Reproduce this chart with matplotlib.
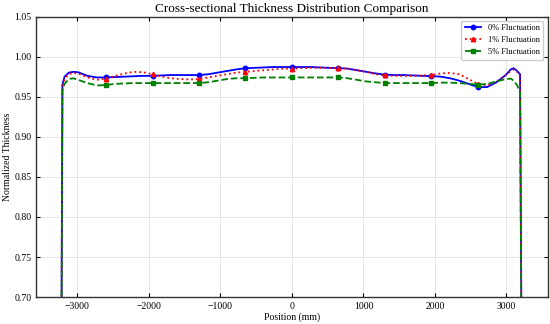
import numpy as np
import matplotlib
matplotlib.use("Agg")
import matplotlib.pyplot as plt

plt.rcParams['font.family'] = ['Liberation Serif', 'DejaVu Serif']

# sample positions across the section (mm)
position = [-3250, -3210, -3180, -3120, -3060, -2990, -2860, -2730, -2600, -2470,
            -2340, -2210, -2080, -1950, -1820, -1690, -1560, -1430, -1300, -1170,
            -1040, -910, -780, -650, -520, -390, -260, -130, 0, 130,
            260, 390, 520, 650, 780, 910, 1040, 1170, 1300, 1430,
            1560, 1690, 1820, 1950, 2080, 2210, 2340, 2470, 2600, 2730,
            2860, 2990, 3060, 3100, 3150, 3190, 3250]

thick_0 = [0.0, 0.965, 0.975, 0.980, 0.981, 0.9805, 0.976, 0.974, 0.974, 0.9745,
           0.975, 0.9755, 0.976, 0.976, 0.9765, 0.977, 0.977, 0.977, 0.977, 0.978,
           0.980, 0.982, 0.984, 0.9855, 0.986, 0.9865, 0.987, 0.987, 0.987, 0.987,
           0.987, 0.9865, 0.986, 0.9857, 0.985, 0.983, 0.981, 0.979, 0.9775, 0.977,
           0.977, 0.9765, 0.976, 0.9757, 0.975, 0.973, 0.970, 0.966, 0.962, 0.962,
           0.968, 0.977, 0.984, 0.9855, 0.982, 0.978, 0.0]

thick_1 = [0.0, 0.962, 0.972, 0.978, 0.9797, 0.979, 0.974, 0.971, 0.9725, 0.976,
           0.979, 0.981, 0.9805, 0.978, 0.975, 0.973, 0.972, 0.9715, 0.972, 0.974,
           0.976, 0.978, 0.980, 0.981, 0.982, 0.983, 0.984, 0.985, 0.985, 0.9855,
           0.986, 0.986, 0.986, 0.9855, 0.985, 0.983, 0.981, 0.978, 0.9765, 0.976,
           0.976, 0.976, 0.9765, 0.977, 0.979, 0.9797, 0.978, 0.972, 0.966, 0.964,
           0.969, 0.977, 0.982, 0.984, 0.981, 0.975, 0.0]

thick_5 = [0.0, 0.958, 0.966, 0.972, 0.973, 0.971, 0.967, 0.964, 0.9645, 0.966,
           0.9665, 0.967, 0.967, 0.967, 0.967, 0.967, 0.967, 0.967, 0.967, 0.968,
           0.970, 0.972, 0.973, 0.973, 0.9735, 0.974, 0.974, 0.974, 0.974, 0.974,
           0.974, 0.974, 0.974, 0.974, 0.973, 0.971, 0.969, 0.968, 0.967, 0.967,
           0.967, 0.967, 0.967, 0.967, 0.9675, 0.9675, 0.967, 0.966, 0.965, 0.966,
           0.969, 0.972, 0.9725, 0.970, 0.964, 0.955, 0.0]

labels = ['0% Fluctuation', '1% Fluctuation', '5% Fluctuation']

# markers every 650 mm
marks = [i for i, p in enumerate(position) if p % 650 == 0]

fig = plt.figure(figsize=(5.5, 3.24), dpi=100)
ax = fig.add_axes([0.066, 0.083, 0.9296, 0.866])

ax.plot(position, thick_0, color='blue', linestyle='-', linewidth=1.3,
        marker='o', markersize=3.2, markevery=marks, label=labels[0])
ax.plot(position, thick_1, color='red', linestyle=':', linewidth=1.3,
        marker='^', markersize=3.2, markevery=marks, label=labels[1])
ax.plot(position, thick_5, color='green', linestyle='--', linewidth=1.3,
        marker='s', markersize=3.2, markevery=marks, label=labels[2])

ax.set_ylim(0.70, 1.05)
ax.set_yticks(np.arange(0.70, 1.051, 0.05))
ax.set_xticks([-3000, -2000, -1000, 0, 1000, 2000, 3000])
ax.tick_params(direction='in', top=True, right=True, labelsize=7, length=3)
ax.grid(True, color='#e3e3e3', linewidth=0.6)
for s in ax.spines.values():
    s.set_color('#333333')
    s.set_linewidth(1.0)

ax.set_title('Cross-sectional Thickness Distribution Comparison', fontsize=9.5, pad=3)
ax.set_xlabel('Position (mm)', fontsize=7, labelpad=1)
ax.set_ylabel('Normalized Thickness', fontsize=7, labelpad=2)
ax.legend(loc='upper right', fontsize=6, framealpha=1.0, edgecolor='#cccccc')

fig.savefig('out.png', dpi=100)
